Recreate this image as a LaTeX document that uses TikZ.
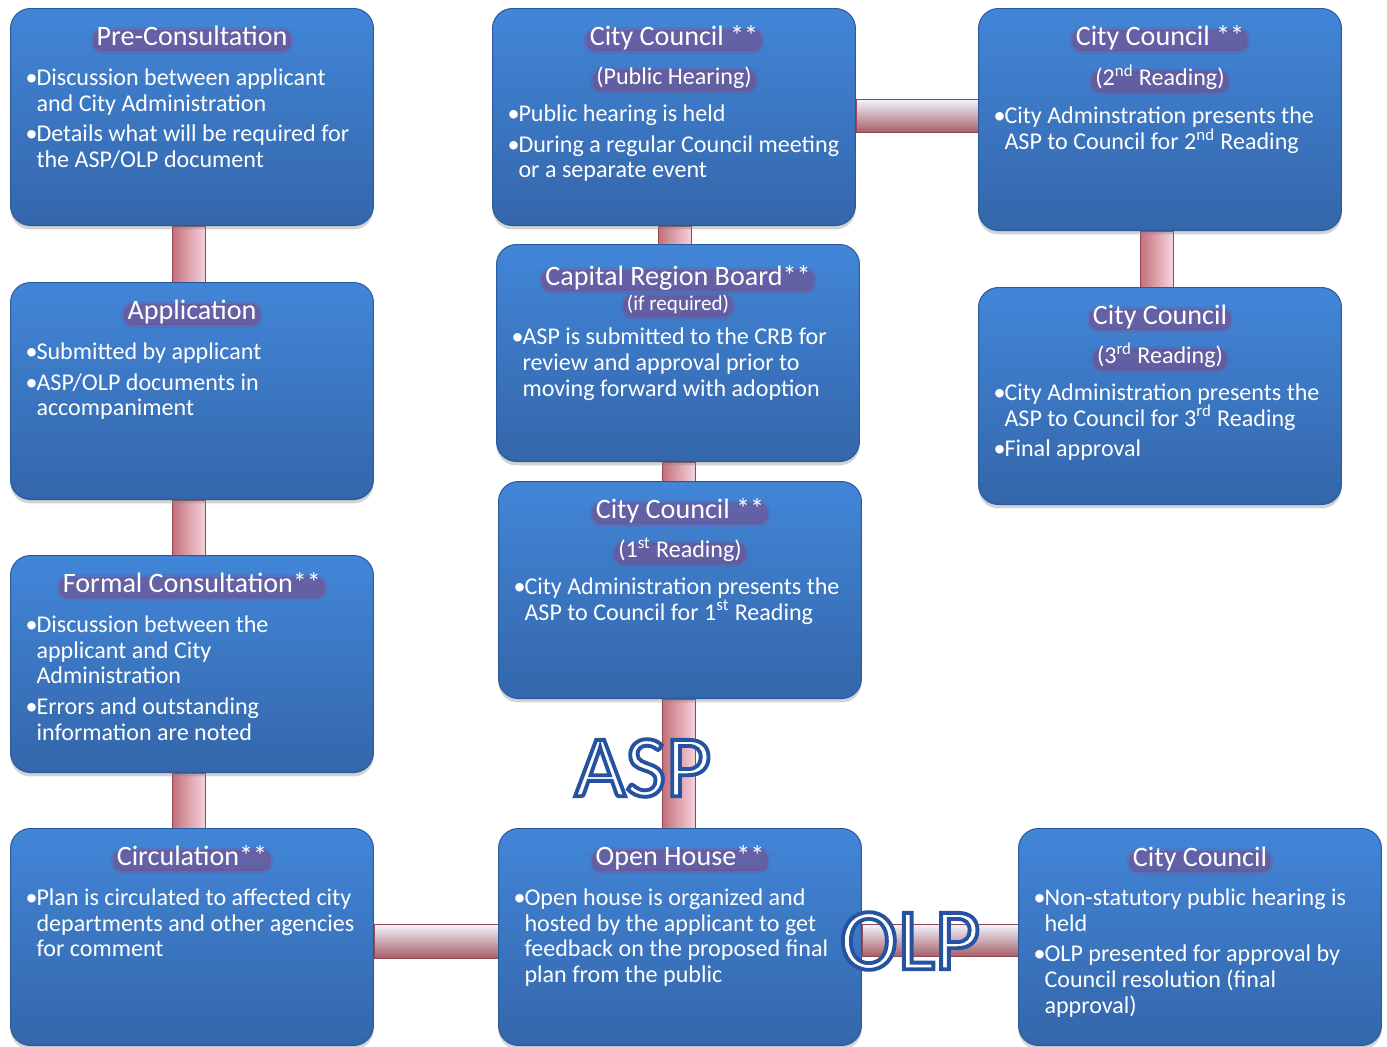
\documentclass[tikz,border=0pt]{standalone}
\usepackage{fontspec}
\setmainfont{Carlito}
\usetikzlibrary{positioning,shadows,backgrounds}

\definecolor{boxtop}{RGB}{66,134,216}
\definecolor{boxbot}{RGB}{52,102,170}
\definecolor{boxedge}{RGB}{42,90,158}
\definecolor{glow}{RGB}{128,72,132}
\definecolor{barred}{RGB}{196,112,122}
\definecolor{bardark}{RGB}{150,72,82}
\definecolor{barlight}{RGB}{246,212,222}
\definecolor{barwhite}{RGB}{242,246,255}

\newlength{\bulw}
\setlength{\bulw}{0.22cm}
\newcommand{\stagetext}[1]{\parbox[c][4.34cm][t]{6.86cm}{\parskip=0pt\leftskip=0.1cm #1}}
% first bullet: #1 = baseline below the box top
\newcommand{\sfirst}[2]{{\fontsize{13.7}{14.74pt}\selectfont\raggedright\leftskip=0.1cm
  \hangindent=\bulw\hangafter=1\noindent\rule{0pt}{#1}\makebox[\bulw][l]{\textbullet}#2\par}}
\newcommand{\sitem}[1]{\vspace{2.85pt}{\fontsize{13.7}{14.74pt}\selectfont\raggedright\leftskip=0.1cm
  \hangindent=\bulw\hangafter=1\noindent\makebox[\bulw][l]{\textbullet}#1\par}}
% outlined letters (fill + stroke text mode)
\newcommand{\bigword}[1]{\special{pdf:literal direct 2 Tr 2.2 w 0.149 0.322 0.635 RG}#1\special{pdf:literal direct 0 Tr}}

\begin{document}
\begin{tikzpicture}[x=0.02cm,y=-0.02cm,
    stage/.style={anchor=north west,inner xsep=0.2cm,inner ysep=0pt,
      rounded corners=0.4cm,top color=boxtop,bottom color=boxbot,
      draw=boxedge,line width=0.6pt,text=white,
      drop shadow={opacity=0.35,shadow xshift=0pt,shadow yshift=-0.08cm}},
    ttl/.style={anchor=base,text=white,font=\fontsize{16}{19}\selectfont,
      fill=glow,fill opacity=0.55,text opacity=1,draw=glow,draw opacity=0.22,
      line width=3pt,rounded corners=5pt,inner xsep=2pt,inner ysep=1.5pt,
      text height=0.7em,text depth=0.2em},
    sub/.style={ttl,font=\fontsize{13.7}{16}\selectfont},
    vbar/.style={left color=barred,right color=barlight,draw=bardark,line width=0.5pt},
    hbar/.style={top color=barwhite,bottom color=barred!85!black,draw=bardark,line width=0.5pt},
    plan/.style={text=white,font=\fontsize{50}{60}\selectfont,inner sep=0pt}]
  \useasboundingbox (0,0) rectangle (1387,1046);

  % --- left column ---
  \node[stage] (pre) at (10,8) {\stagetext{
    \sfirst{43.6pt}{Discussion between applicant\newline and City Administration}
    \sitem{Details what will be required for\newline the ASP/OLP document}}};
  \node[stage] (app) at (10,282) {\stagetext{
    \sfirst{43.6pt}{Submitted by applicant}
    \sitem{ASP/OLP documents in\newline accompaniment}}};
  \node[stage] (formal) at (10,555) {\stagetext{
    \sfirst{43.6pt}{Discussion between the\newline applicant and City\newline Administration}
    \sitem{Errors and outstanding\newline information are noted}}};
  \node[stage] (circ) at (10,828) {\stagetext{
    \sfirst{43.6pt}{Plan is circulated to affected city\newline departments and other agencies\newline for comment}}};

  % --- middle column ---
  \node[stage] (hearing) at (492,8) {\stagetext{
    \sfirst{64.1pt}{Public hearing is held}
    \sitem{During a regular Council meeting\newline or a separate event}}};
  \node[stage] (crb) at (496,244) {\stagetext{
    \sfirst{57.1pt}{ASP is submitted to the CRB for\newline review and approval prior to\newline moving forward with adoption}}};
  \node[stage] (first) at (498,481) {\stagetext{
    \sfirst{64.1pt}{City Administration presents the\newline ASP to Council for 1\textsuperscript{st} Reading}}};
  \node[stage] (open) at (498,828) {\stagetext{
    \sfirst{43.6pt}{Open house is organized and\newline hosted by the applicant to get\newline feedback on the proposed final\newline plan from the public}}};

  % --- right column ---
  \node[stage,minimum height=4.44cm] (second) at (978,8) {\stagetext{
    \sfirst{64.1pt}{City Adminstration presents the\newline ASP to Council for 2\textsuperscript{nd} Reading}}};
  \node[stage] (third) at (978,287) {\stagetext{
    \sfirst{64.1pt}{City Administration presents the\newline ASP to Council for 3\textsuperscript{rd} Reading}
    \sitem{Final approval}}};
  \node[stage] (olp) at (1018,828) {\stagetext{
    \sfirst{43.6pt}{Non-statutory public hearing is\newline held}
    \sitem{OLP presented for approval by\newline Council resolution (final\newline approval)}}};

  % --- titles ---
  \node[ttl,yshift=-0.74cm] (pre-t) at (pre.north) {Pre-Consultation};
  \node[ttl,yshift=-0.74cm] (app-t) at (app.north) {Application};
  \node[ttl,yshift=-0.74cm] (formal-t) at (formal.north) {Formal Consultation**};
  \node[ttl,yshift=-0.74cm] (circ-t) at (circ.north) {Circulation**};
  \node[ttl,yshift=-0.74cm] (hearing-t) at (hearing.north) {City Council **};
  \node[sub,yshift=-1.54cm] (hearing-s) at (hearing.north) {(Public Hearing)};
  \node[ttl,yshift=-0.82cm] (crb-t) at (crb.north) {Capital Region Board**};
  \node[sub,font=\fontsize{12}{14}\selectfont,yshift=-1.33cm] (crb-s) at (crb.north) {(if required)};
  \node[ttl,yshift=-0.74cm] (first-t) at (first.north) {City Council **};
  \node[sub,yshift=-1.54cm] (first-s) at (first.north) {(1\textsuperscript{st} Reading)};
  \node[ttl,yshift=-0.74cm] (open-t) at (open.north) {Open House**};
  \node[ttl,yshift=-0.74cm] (second-t) at (second.north) {City Council **};
  \node[sub,yshift=-1.56cm] (second-s) at (second.north) {(2\textsuperscript{nd} Reading)};
  \node[ttl,yshift=-0.74cm] (third-t) at (third.north) {City Council};
  \node[sub,yshift=-1.54cm] (third-s) at (third.north) {(3\textsuperscript{rd} Reading)};
  \node[ttl,yshift=-0.76cm] (olp-t) at (olp.north) {City Council};

  % --- connecting bars (behind the boxes) ---
  \begin{pgfonlayer}{background}
    \path[vbar] ([xshift=-0.39cm]pre.south) rectangle ([xshift=0.27cm]app.north);
    \path[vbar] ([xshift=-0.39cm]app.south) rectangle ([xshift=0.27cm]formal.north);
    \path[vbar] ([xshift=-0.39cm]formal.south) rectangle ([xshift=0.27cm]circ.north);
    \path[vbar] ([xshift=-0.31cm]hearing.south) rectangle ([xshift=0.35cm]hearing.south |- crb.north);
    \path[vbar] ([xshift=-0.31cm]crb.south) rectangle ([xshift=0.35cm]crb.south |- first.north);
    \path[vbar] ([xshift=-0.35cm]first.south) rectangle ([xshift=0.31cm]first.south |- open.north);
    \path[vbar] ([xshift=-0.40cm]second.south) rectangle ([xshift=0.26cm]second.south |- third.north);
    \path[hbar] ([yshift=0.36cm]hearing.east) rectangle ([yshift=-0.30cm]hearing.east -| second.west);
    \path[hbar] ([yshift=0.26cm]circ.east) rectangle ([yshift=-0.42cm]circ.east -| open.west);
    \path[hbar] ([yshift=0.26cm]open.east) rectangle ([yshift=-0.38cm]open.east -| olp.west);
  \end{pgfonlayer}

  % --- plan labels ---
  \node[plan] (asp) at (643,768) {\bigword{ASP}};
  \node[plan] (olplabel) at (910,941) {\bigword{OLP}};
\end{tikzpicture}
\end{document}
